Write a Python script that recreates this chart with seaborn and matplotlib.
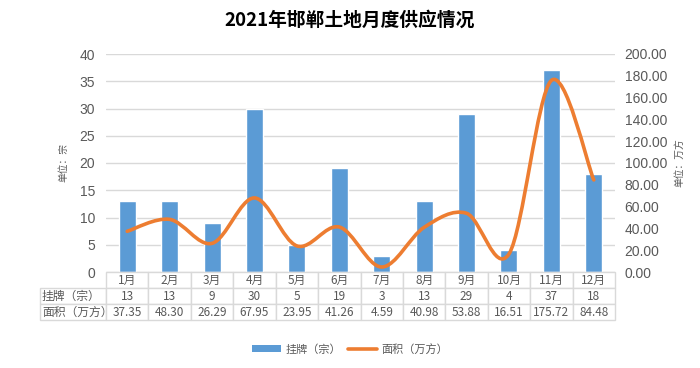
import matplotlib.pyplot as plt
import numpy as np
import pandas as pd
import seaborn as sns
from matplotlib.lines import Line2D
from matplotlib.patches import Patch, PathPatch, Rectangle
from matplotlib.path import Path

months = ["1月", "2月", "3月", "4月", "5月", "6月", "7月", "8月", "9月", "10月", "11月", "12月"]
counts = [13, 13, 9, 30, 5, 19, 3, 13, 29, 4, 37, 18]
areas = [37.35, 48.30, 26.29, 67.95, 23.95, 41.26, 4.59, 40.98, 53.88, 16.51, 175.72, 84.48]
area_labels = ["37.35", "48.30", "26.29", "67.95", "23.95", "41.26", "4.59", "40.98",
               "53.88", "16.51", "175.72", "84.48"]
row_labels = ["挂牌（宗）", "面积（万方）"]

BLUE = "#5B9BD5"
ORANGE = "#ED7D31"
GRID = "#D9D9D9"
TXT = "#595959"
NUMFONT = ["Liberation Sans", "DejaVu Sans"]

sns.set_theme(style="white")
plt.rcParams["font.family"] = ["Noto Sans CJK SC", "DejaVu Sans"]

df = pd.DataFrame({"month": months, "count": counts, "area": areas})

W, H = 700, 368
AX_L, AX_R, AX_T, AX_B = 106, 615, 54, 272
fig = plt.figure(figsize=(7, 3.68), dpi=100)
ax = fig.add_axes([AX_L / W, 1 - AX_B / H, (AX_R - AX_L) / W, (AX_B - AX_T) / H])

sns.barplot(data=df, x="month", y="count", color=BLUE, width=0.4, saturation=1, ax=ax)
ax.set_ylim(0, 40)
ax.set_yticks(range(0, 41, 5))
ax.set_yticklabels([str(v) for v in range(0, 41, 5)], family=NUMFONT)
ax.set_xlim(-0.5, 11.5)
ax.yaxis.grid(True, color=GRID, linewidth=1)
ax.set_axisbelow(True)
ax.set_xticks([])
ax.set_xlabel("")
ax.set_ylabel("单位：宗", fontsize=7, color=TXT, labelpad=8)
ax.tick_params(axis="y", length=0, labelsize=10, labelcolor=TXT, pad=8)
for s in ax.spines.values():
    s.set_visible(False)

ax2 = ax.twinx()
ax2.set_ylim(0, 200)
ax2.set_yticks(range(0, 201, 20))
ax2.set_yticklabels([f"{v:.2f}" for v in range(0, 201, 20)], family=NUMFONT)
ax2.tick_params(axis="y", length=0, labelsize=10, labelcolor=TXT, pad=7)
ax2.set_ylabel("单位：万方", fontsize=7, color=TXT, rotation=90, labelpad=5)
for s in ax2.spines.values():
    s.set_visible(False)

# smooth line (Catmull-Rom style bezier like Excel)
x = np.arange(len(areas), dtype=float)
y = np.array(areas)
verts = [(x[0], y[0])]
codes = [Path.MOVETO]
n = len(x)
for i in range(n - 1):
    p0 = np.array([x[max(i - 1, 0)], y[max(i - 1, 0)]])
    p1 = np.array([x[i], y[i]])
    p2 = np.array([x[i + 1], y[i + 1]])
    p3 = np.array([x[min(i + 2, n - 1)], y[min(i + 2, n - 1)]])
    c1 = p1 + (p2 - p0) / 6
    c2 = p2 - (p3 - p1) / 6
    verts += [tuple(c1), tuple(c2), tuple(p2)]
    codes += [Path.CURVE4] * 3
ax2.add_patch(PathPatch(Path(verts, codes), facecolor="none", edgecolor=ORANGE,
                        linewidth=2.6, capstyle="round", joinstyle="round"))

# data table under the plot, in axes coordinates
axw, axh = AX_R - AX_L, AX_B - AX_T
lab_l = (40 - AX_L) / axw
row_h = 16 / axh
cw = 1 / len(months)


def cell(x0, x1, r, text, ha="center", fam=None):
    y0 = -(r + 1) * row_h
    ax.add_patch(Rectangle((x0, y0), x1 - x0, row_h, transform=ax.transAxes,
                           facecolor="white", edgecolor=GRID, linewidth=1,
                           clip_on=False, zorder=3))
    tx = x0 + 2 / axw if ha == "left" else (x0 + x1) / 2
    ax.text(tx, y0 + row_h / 2, text, transform=ax.transAxes, ha=ha, va="center",
            fontsize=8.5, color=TXT, clip_on=False, zorder=4,
            family=fam or ["Noto Sans CJK SC", "DejaVu Sans"])


for j, m in enumerate(months):
    cell(j * cw, (j + 1) * cw, 0, m)
for r, (lab, vals) in enumerate(zip(row_labels, [[str(c) for c in counts], area_labels]), start=1):
    cell(lab_l, 0, r, lab, ha="left")
    for j, v in enumerate(vals):
        cell(j * cw, (j + 1) * cw, r, v)

fig.text(0.5, 1 - 20 / H, "2021年邯郸土地月度供应情况", ha="center", va="center",
         fontsize=13.5, fontweight="bold", color="#000000")

handles = [Patch(facecolor=BLUE, edgecolor="none"),
           Line2D([0], [0], color=ORANGE, linewidth=2.6)]
fig.legend(handles, row_labels, loc="center", ncol=2,
           bbox_to_anchor=(0.5, 1 - 349 / H), frameon=False, fontsize=8,
           handlelength=2.6, handleheight=0.5, columnspacing=0.6, handletextpad=0.4,
           labelcolor=TXT)

fig.savefig("out.png", dpi=100)
